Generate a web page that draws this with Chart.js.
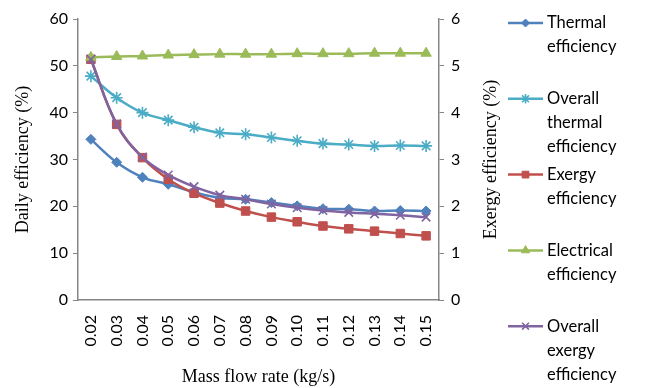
<!DOCTYPE html>
<html>
<head>
<meta charset="utf-8">
<script src="https://cdn.jsdelivr.net/npm/chart.js@4/dist/chart.umd.min.js"></script>
<style>
html,body{margin:0;padding:0;background:#fff;}
#wrap{position:relative;width:656px;height:388px;}
</style>
</head>
<body>
<div id="wrap"><canvas id="c" width="656" height="388"></canvas></div>
<script>
const categories = ["0.02","0.03","0.04","0.05","0.06","0.07","0.08","0.09","0.10","0.11","0.12","0.13","0.14","0.15"];
const thermalEff = [34.3,29.4,26.2,24.7,23.0,21.8,21.5,20.8,20.1,19.5,19.4,19.0,19.1,19.0];
const overallThermalEff = [47.8,43.2,40.0,38.4,36.9,35.7,35.4,34.7,34.0,33.4,33.2,32.9,33.0,32.9];
const exergyEff = [5.14,3.75,3.04,2.58,2.28,2.07,1.90,1.77,1.67,1.58,1.52,1.47,1.42,1.37];
const electricalEff = [5.18,5.20,5.21,5.23,5.24,5.25,5.25,5.25,5.26,5.26,5.26,5.27,5.27,5.27];
const overallExergyEff = [5.14,3.76,3.05,2.67,2.42,2.24,2.15,2.05,1.97,1.91,1.87,1.84,1.81,1.77];
const leftTicks = [0,10,20,30,40,50,60];
const rightTicks = [0,1,2,3,4,5,6];
const rightTitle = "Exergy efficiency (%)";

const tickFont = {family:"Lato", size:16};
const titleFont = {family:"'Liberation Serif'", size:18};
const axisGrey = "#868686";

function ds(label, data, color, style, radius, axis, order){
  return {label, data, yAxisID:axis, borderColor:color, backgroundColor:color,
    pointStyle:style, pointRadius:radius, pointHoverRadius:radius, pointBorderColor:color,
    pointBackgroundColor:color, pointBorderWidth: (style==='star'||style==='crossRot')?1.6:1,
    borderWidth:2.5, tension:0.4, fill:false, order};
}

const sideLegend = {
  id:'sideLegend',
  afterDraw(chart){
    const ctx = chart.ctx;
    ctx.save();
    ctx.font = "16.5px Lato";
    ctx.textBaseline = "middle";
    const x0 = 508, x1 = 543, tx = 547, maxW = 92;
    chart.data.datasets.forEach((d,i)=>{
      const y = 23 + i*75.8;
      const words = d.label.split(' ');
      const lines = [];
      let cur = '';
      words.forEach(w=>{
        const t = cur ? cur+' '+w : w;
        if (cur && ctx.measureText(t).width > maxW){ lines.push(cur); cur = w; } else cur = t;
      });
      if (cur) lines.push(cur);
      ctx.strokeStyle = d.borderColor; ctx.lineWidth = 2.5;
      ctx.beginPath(); ctx.moveTo(x0,y); ctx.lineTo(x1,y); ctx.stroke();
      ctx.fillStyle = d.borderColor; ctx.strokeStyle = d.borderColor; ctx.lineWidth = d.pointBorderWidth;
      Chart.helpers.drawPoint(ctx, {pointStyle:d.pointStyle, radius:d.pointRadius*0.8, borderWidth:d.pointBorderWidth}, (x0+x1)/2, y);
      ctx.fillStyle = "#000";
      lines.forEach((ln,k)=>ctx.fillText(ln, tx, y + k*24));
    });
    // right axis title, reading bottom-to-top
    const s = chart.scales.y1;
    ctx.save();
    ctx.translate(491, (s.top + s.bottom)/2);
    ctx.rotate(-Math.PI/2);
    ctx.font = "18px 'Liberation Serif'";
    ctx.textAlign = "center";
    ctx.textBaseline = "middle";
    ctx.fillStyle = "#000";
    ctx.fillText(rightTitle, 0, 0);
    ctx.restore();
    ctx.restore();
  }
};

new Chart(document.getElementById('c'), {
  type:'line',
  data:{
    labels:categories,
    datasets:[
      ds("Thermal efficiency", thermalEff, "#4F81BD", "rectRot", 5, "y", 5),
      ds("Overall thermal efficiency", overallThermalEff, "#4BACC6", "star", 6, "y", 4),
      ds("Exergy efficiency", exergyEff, "#C0504D", "rect", 6, "y1", 3),
      ds("Electrical efficiency", electricalEff, "#9BBB59", "triangle", 6, "y1", 2),
      ds("Overall exergy efficiency", overallExergyEff, "#8064A2", "crossRot", 6, "y1", 1)
    ]
  },
  options:{
    responsive:false, animation:false,
    layout:{padding:{top:19, right:151, left:0, bottom:0}},
    plugins:{legend:{display:false}, tooltip:{enabled:false}},
    scales:{
      x:{
        offset:true,
        grid:{display:false, drawTicks:true, tickLength:5, color:axisGrey, offset:false},
        border:{display:true, color:axisGrey, width:1.5},
        ticks:{color:"#000", font:tickFont, minRotation:90, maxRotation:90, padding:10, autoSkip:false},
        title:{display:true, text:"Mass flow rate (kg/s)", color:"#000", font:titleFont, padding:{top:4,bottom:0}},
        afterFit(s){ s.height = 88; }
      },
      y:{
        position:'left', min:0, max:60,
        afterBuildTicks(s){ s.ticks = leftTicks.map(v=>({value:v})); },
        grid:{display:true, drawOnChartArea:false, drawTicks:true, tickLength:5, color:axisGrey},
        border:{display:true, color:axisGrey, width:1.5},
        ticks:{color:"#000", font:tickFont, padding:5},
        title:{display:true, text:"Daily efficiency (%)", color:"#000", font:titleFont, padding:{top:12,bottom:0}},
        afterFit(s){ s.width = 78; }
      },
      y1:{
        position:'right', min:0, max:6,
        afterBuildTicks(s){ s.ticks = rightTicks.map(v=>({value:v})); },
        grid:{display:true, drawOnChartArea:false, drawTicks:true, tickLength:5, color:axisGrey},
        border:{display:true, color:axisGrey, width:1.5},
        ticks:{color:"#000", font:tickFont, padding:7},
        title:{display:false},
        afterFit(s){ s.width = 66; }
      }
    }
  },
  plugins:[sideLegend]
});
</script>
</body>
</html>
